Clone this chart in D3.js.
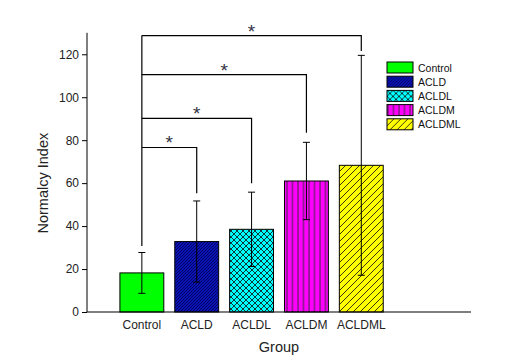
<!DOCTYPE html>
<html>
<head>
<meta charset="utf-8">
<script src="https://cdn.jsdelivr.net/npm/d3@7"></script>
<style>
  body { margin: 0; background: #fff; }
  svg { display: block; font-family: "Liberation Sans", Arial, sans-serif; }
</style>
</head>
<body>
<div id="chart"></div>
<script>
// Normalcy index per group (mean +/- SD)
const groups = ['Control', 'ACLD', 'ACLDL', 'ACLDM', 'ACLDML'];
const means = [18.2, 32.8, 38.5, 61, 68.3];
const sds = [9.5, 18.9, 17.3, 18, 51.2];
const yTicks = [0, 20, 40, 60, 80, 100, 120];

// significance brackets: Control vs group index, bar height and right leg end
const bracketTo = [1, 2, 3, 4];
const bracketLevel = [76.6, 90.2, 110.5, 128.7];
const bracketEnd = [55.3, 60, 83.5, 121.5];
const controlLegEnd = 30.7;

const fills = ['#00ff00', '#0a14b4', '#00ffff', '#ff00ff', '#ffff00'];

const width = 532, height = 363;
const svg = d3.select('#chart').append('svg')
    .attr('width', width)
    .attr('height', height);

// hatch patterns
const defs = svg.append('defs');

function addPattern(id, size, bg, draw) {
    const p = defs.append('pattern')
        .attr('id', id)
        .attr('patternUnits', 'userSpaceOnUse')
        .attr('width', size)
        .attr('height', size);
    p.append('rect').attr('width', size).attr('height', size).attr('fill', bg);
    draw(p, size);
}

// ACLD: fine diagonal
addPattern('p1', 3, fills[1], (p, s) => {
    p.append('path').attr('d', `M0,${s} L${s},0 M${-s},${s} L0,0 M${s},${2 * s} L${2 * s},${s}`)
        .attr('stroke', '#00005a').attr('stroke-width', 0.9);
});
// ACLDL: crosshatch
addPattern('p2', 6, fills[2], (p, s) => {
    p.append('path').attr('d', `M0,0 L${s},${s} M0,${s} L${s},0`)
        .attr('stroke', '#103838').attr('stroke-width', 1);
});
// ACLDM: vertical lines
addPattern('p3', 5.5, fills[3], (p, s) => {
    p.append('line').attr('x1', 1).attr('x2', 1).attr('y1', 0).attr('y2', s)
        .attr('stroke', '#6a206a').attr('stroke-width', 1.3);
});
// ACLDML: diagonal
addPattern('p4', 7, fills[4], (p, s) => {
    p.append('path').attr('d', `M0,${s} L${s},0 M${-s},${s} L0,0 M${s},${2 * s} L${2 * s},${s}`)
        .attr('stroke', '#3a3a10').attr('stroke-width', 1);
});

const patternFill = ['#00ff00', 'url(#p1)', 'url(#p2)', 'url(#p3)', 'url(#p4)'];

const x = d3.scaleLinear().domain([0, 7]).range([87, 471]);
const y = d3.scaleLinear().domain([0, 130]).range([312, 32.8]);
const barW = x(0.8) - x(0);

// bars
svg.append('g').selectAll('rect')
    .data(groups)
    .join('rect')
    .attr('x', (d, i) => x(i + 1) - barW / 2)
    .attr('y', (d, i) => y(means[i]))
    .attr('width', barW)
    .attr('height', (d, i) => y(0) - y(means[i]))
    .attr('fill', (d, i) => patternFill[i])
    .attr('stroke', '#000')
    .attr('stroke-width', 1);

// error bars
const err = svg.append('g').attr('stroke', '#000').attr('stroke-width', 1);
groups.forEach((g, i) => {
    const cx = x(i + 1);
    const lo = y(means[i] - sds[i]), hi = y(means[i] + sds[i]);
    err.append('line').attr('x1', cx).attr('x2', cx).attr('y1', lo).attr('y2', hi);
    err.append('line').attr('x1', cx - 3.5).attr('x2', cx + 3.5).attr('y1', lo).attr('y2', lo);
    err.append('line').attr('x1', cx - 3.5).attr('x2', cx + 3.5).attr('y1', hi).attr('y2', hi);
});

// axes
const yAxis = d3.axisLeft(y).tickValues(yTicks).tickSize(5).tickPadding(3);
const gy = svg.append('g').attr('transform', `translate(${x(0)},0)`).call(yAxis);
gy.select('.domain').attr('d', `M0,${y(130)}V${y(0)}`);
gy.selectAll('text').attr('font-size', 12).attr('fill', '#222')
    .attr('font-family', '"Liberation Sans", Arial, sans-serif');

svg.append('line')
    .attr('x1', x(0)).attr('x2', x(7))
    .attr('y1', y(0)).attr('y2', y(0))
    .attr('stroke', '#000').attr('stroke-width', 1.2);

svg.append('g').selectAll('text')
    .data(groups)
    .join('text')
    .attr('x', (d, i) => x(i + 1))
    .attr('y', 328.5)
    .attr('text-anchor', 'middle')
    .attr('font-size', 12)
    .attr('fill', '#222')
    .text(d => d);

// axis titles
svg.append('text')
    .attr('x', x(3.5)).attr('y', 352)
    .attr('text-anchor', 'middle')
    .attr('font-size', 14.5)
    .attr('fill', '#222')
    .text('Group');

svg.append('text')
    .attr('transform', `translate(47.5,${y(60)}) rotate(-90)`)
    .attr('text-anchor', 'middle')
    .attr('font-size', 14.5)
    .attr('fill', '#222')
    .text('Normalcy Index');

// significance brackets
const br = svg.append('g').attr('fill', 'none').attr('stroke', '#000').attr('stroke-width', 1.2);
br.append('line')
    .attr('x1', x(1)).attr('x2', x(1))
    .attr('y1', y(d3.max(bracketLevel))).attr('y2', y(controlLegEnd));
bracketTo.forEach((k, j) => {
    const x2 = x(k + 1);
    br.append('path')
        .attr('d', `M${x(1)},${y(bracketLevel[j])}H${x2}V${y(bracketEnd[j])}`);
    svg.append('text')
        .attr('x', (x(1) + x2) / 2)
        .attr('y', y(bracketLevel[j]) + 2)
        .attr('text-anchor', 'middle')
        .attr('font-size', 19)
        .attr('fill', '#334')
        .text('*');
});

// legend
const legend = svg.append('g').attr('transform', 'translate(387,62)');
groups.forEach((g, i) => {
    const row = legend.append('g').attr('transform', `translate(0,${i * 14.2})`);
    row.append('rect')
        .attr('width', 26).attr('height', 11)
        .attr('fill', patternFill[i])
        .attr('stroke', '#000').attr('stroke-width', 1);
    row.append('text')
        .attr('x', 31).attr('y', 9.5)
        .attr('font-size', 10.5)
        .attr('fill', '#111')
        .text(g);
});
</script>
</body>
</html>
